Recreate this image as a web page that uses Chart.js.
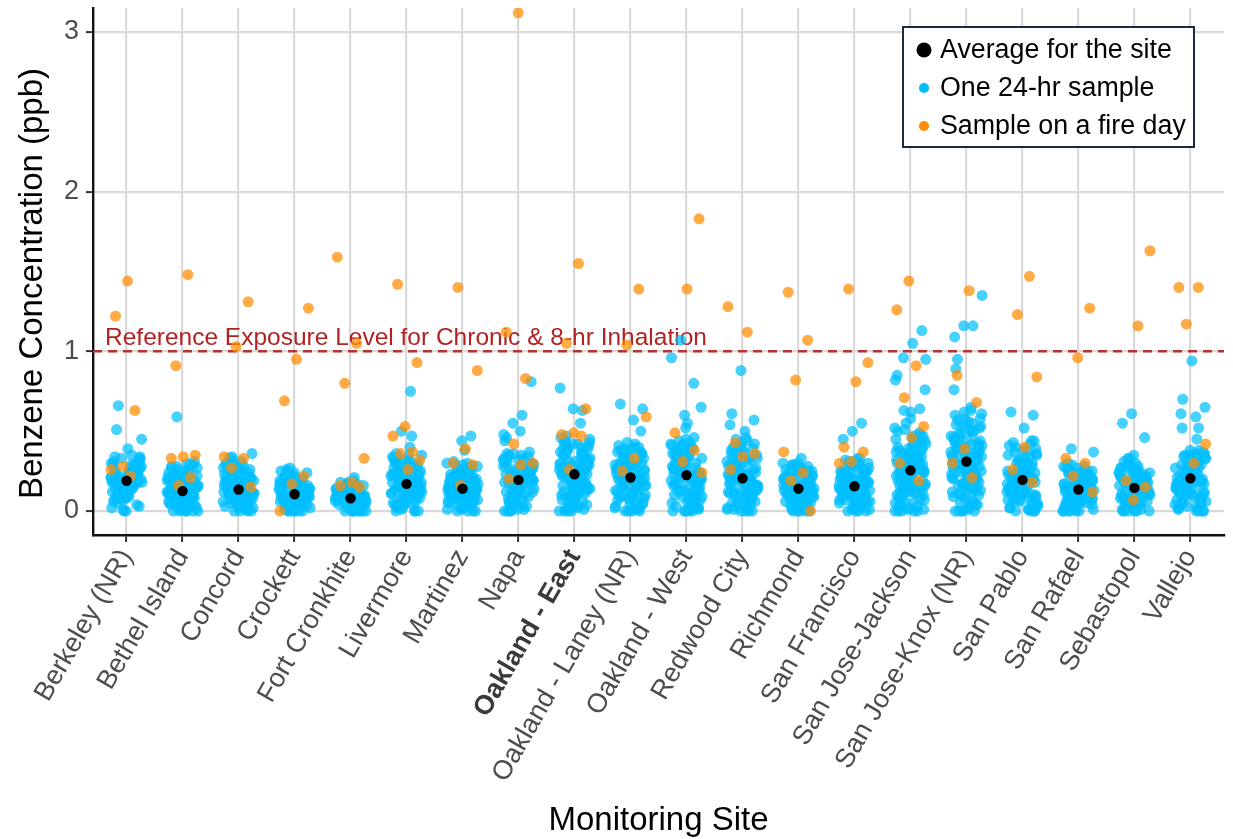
<!DOCTYPE html>
<html>
<head>
<meta charset="utf-8">
<script src="https://cdn.jsdelivr.net/npm/chart.js@4.4.1/dist/chart.umd.min.js"></script>
<style>
  html, body { margin: 0; padding: 0; background: #ffffff; }
  #wrap { width: 1233px; height: 839px; position: relative; }
</style>
</head>
<body>
<div id="wrap"><canvas id="chart"></canvas></div>
<script>
// Monitoring sites, in axis order
const sites = [
  'Berkeley (NR)', 'Bethel Island', 'Concord', 'Crockett', 'Fort Cronkhite',
  'Livermore', 'Martinez', 'Napa', 'Oakland - East', 'Oakland - Laney (NR)',
  'Oakland - West', 'Redwood City', 'Richmond', 'San Francisco', 'San Jose-Jackson',
  'San Jose-Knox (NR)', 'San Pablo', 'San Rafael', 'Sebastopol', 'Vallejo'
];
const highlightedSite = 'Oakland - East';

// Site averages (ppb)
const siteAverages = [
  0.19, 0.125, 0.135, 0.105, 0.08, 0.17, 0.14, 0.195, 0.23, 0.21,
  0.225, 0.205, 0.14, 0.155, 0.255, 0.31, 0.195, 0.135, 0.145, 0.205
];

// 24-hr samples on ordinary days (ppb), one list per site
const daySamples = [
  [0.21,0.17,0.66,0.24,0.12,0.31,0.19,0.08,0.27,0.15,0.51,0.22,0.0,0.18,0.29,0.13,0.26,0.1,0.34,0.2,0.16,0.45,0.23,0.05,0.28,0.14,0.19,0.25,0.11,0.32,0.39,0.17,0.21,0.07,0.3,0.24,0.13,0.18,0.0,0.26,0.15,0.33,0.2,0.09,0.22,0.27,0.16,0.12,0.35,0.19,0.03,0.23,0.14,0.29,0.18,
   0.18,0.26,0.11,0.3,0.2,0.06,0.24,0.15,0.33,0.21,0.09,0.27,0.17,0.02,0.23,0.13,0.31,0.19,0.07,0.25,0.16,0.28,0.12,0.22,0.04,0.2,0.29,0.14,0.18,0.34,0.1,0.24,0.17,0.01,0.21,0.27,0.15,0.23,0.08,0.19],
  [0.14,0.08,0.22,0.0,0.17,0.11,0.29,0.05,0.19,0.13,0.59,0.02,0.25,0.1,0.16,0.0,0.21,0.07,0.12,0.31,0.15,0.04,0.18,0.09,0.27,0.13,0.0,0.2,0.06,0.24,0.11,0.16,0.03,0.14,0.28,0.08,0.19,0.12,0.0,0.23,0.1,0.17,0.05,0.26,0.13,0.15,0.01,0.21,0.09,0.18,0.11,0.3,0.07,0.14,
   0.12,0.2,0.05,0.26,0.15,0.0,0.18,0.09,0.23,0.13,0.03,0.28,0.16,0.07,0.21,0.11,0.01,0.19,0.14,0.25,0.08,0.17,0.1,0.29,0.04,0.22,0.12,0.15,0.0,0.2,0.06,0.24,0.13,0.18,0.09,0.27,0.11,0.02,0.16,0.21],
  [0.13,0.21,0.06,0.28,0.15,0.0,0.19,0.1,0.33,0.12,0.24,0.03,0.17,0.08,0.36,0.14,0.22,0.0,0.11,0.27,0.16,0.05,0.2,0.09,0.3,0.13,0.18,0.02,0.25,0.1,0.15,0.07,0.23,0.12,0.34,0.0,0.19,0.14,0.04,0.26,0.11,0.17,0.08,0.21,0.13,0.29,0.06,0.16,0.1,0.24,0.15,0.01,0.2,0.12,
   0.14,0.22,0.07,0.27,0.16,0.01,0.2,0.11,0.31,0.13,0.04,0.25,0.18,0.09,0.23,0.12,0.0,0.19,0.15,0.29,0.06,0.17,0.1,0.26,0.03,0.21,0.14,0.32,0.08,0.18,0.12,0.24,0.05,0.16,0.28,0.11,0.2,0.02,0.15,0.22],
  [0.1,0.17,0.04,0.22,0.12,0.0,0.15,0.07,0.27,0.09,0.19,0.02,0.13,0.06,0.25,0.11,0.0,0.16,0.08,0.21,0.1,0.03,0.14,0.05,0.26,0.12,0.0,0.18,0.07,0.23,0.09,0.15,0.01,0.11,0.2,0.06,0.13,0.04,0.24,0.1,0.17,0.0,0.08,0.14,0.19,0.05,0.12,0.22,0.09,0.16,0.03,0.11,
   0.11,0.18,0.05,0.21,0.13,0.0,0.16,0.08,0.24,0.1,0.03,0.19,0.14,0.06,0.22,0.09,0.01,0.17,0.12,0.25,0.04,0.15,0.07,0.2,0.11,0.02,0.13,0.23,0.08,0.16,0.1,0.18,0.0,0.12,0.21,0.06,0.14,0.09,0.19,0.03],
  [0.08,0.13,0.03,0.17,0.06,0.0,0.11,0.05,0.15,0.09,0.01,0.12,0.04,0.19,0.07,0.0,0.1,0.14,0.02,0.08,0.16,0.05,0.11,0.0,0.13,0.06,0.21,0.09,0.03,0.12,0.07,0.15,0.0,0.1,0.04,0.18,0.08,0.02,0.14,0.06,0.11,0.0,0.09,0.13,0.05,0.16,0.07,0.01,0.12,0.1,
   0.07,0.12,0.02,0.15,0.09,0.0,0.13,0.04,0.17,0.08,0.01,0.11,0.06,0.14,0.1,0.03,0.16,0.07,0.0,0.12,0.05,0.18,0.09,0.02,0.13,0.06,0.11,0.04,0.15,0.08,0.0,0.1,0.14,0.03,0.12,0.07,0.17,0.05,0.09,0.01],
  [0.17,0.25,0.08,0.32,0.14,0.0,0.21,0.11,0.75,0.19,0.29,0.05,0.23,0.13,0.5,0.16,0.35,0.02,0.27,0.1,0.18,0.47,0.07,0.22,0.15,0.31,0.0,0.2,0.12,0.4,0.26,0.09,0.17,0.33,0.04,0.24,0.14,0.19,0.36,0.06,0.21,0.11,0.28,0.16,0.0,0.23,0.13,0.3,0.08,0.18,0.25,0.03,0.2,0.15,0.34,0.1,
   0.16,0.24,0.09,0.3,0.18,0.02,0.22,0.12,0.34,0.2,0.06,0.27,0.15,0.01,0.25,0.13,0.32,0.19,0.07,0.23,0.17,0.29,0.11,0.21,0.04,0.26,0.14,0.35,0.09,0.2,0.16,0.28,0.05,0.18,0.24,0.12,0.31,0.0,0.22,0.15],
  [0.14,0.22,0.05,0.27,0.12,0.0,0.18,0.09,0.47,0.16,0.3,0.03,0.2,0.11,0.44,0.15,0.25,0.0,0.13,0.38,0.08,0.19,0.23,0.06,0.1,0.29,0.17,0.02,0.21,0.12,0.26,0.07,0.15,0.31,0.0,0.18,0.1,0.24,0.04,0.14,0.2,0.09,0.28,0.13,0.01,0.16,0.22,0.06,0.11,0.19,0.08,0.25,0.14,
   0.13,0.21,0.06,0.26,0.15,0.0,0.19,0.1,0.29,0.14,0.03,0.24,0.17,0.08,0.22,0.12,0.01,0.18,0.27,0.11,0.2,0.05,0.16,0.25,0.09,0.13,0.3,0.07,0.19,0.02,0.23,0.15,0.11,0.28,0.04,0.17,0.21,0.1,0.14,0.26],
  [0.19,0.28,0.06,0.34,0.15,0.0,0.23,0.12,0.81,0.21,0.31,0.03,0.26,0.14,0.6,0.18,0.37,0.01,0.29,0.1,0.55,0.2,0.5,0.08,0.24,0.16,0.48,0.33,0.0,0.22,0.13,0.46,0.27,0.09,0.19,0.35,0.05,0.25,0.15,0.44,0.21,0.11,0.3,0.17,0.0,0.24,0.14,0.32,0.07,0.2,0.27,0.04,0.23,0.16,0.36,0.12,0.18,
   0.18,0.27,0.08,0.33,0.2,0.02,0.25,0.13,0.36,0.22,0.05,0.29,0.16,0.0,0.24,0.11,0.31,0.19,0.07,0.26,0.15,0.34,0.21,0.1,0.28,0.03,0.23,0.17,0.32,0.12,0.2,0.06,0.27,0.14,0.35,0.09,0.22,0.18,0.01,0.25],
  [0.23,0.34,0.08,0.41,0.18,0.0,0.28,0.14,0.77,0.25,0.38,0.04,0.31,0.16,0.63,0.21,0.45,0.02,0.35,0.11,0.64,0.27,0.55,0.09,0.3,0.19,0.43,0.36,0.0,0.26,0.13,0.47,0.32,0.07,0.22,0.4,0.05,0.29,0.17,0.44,0.24,0.12,0.37,0.2,0.0,0.27,0.15,0.39,0.06,0.23,0.33,0.03,0.28,0.18,0.42,0.1,0.21,0.31,0.14,0.25,0.35,0.01,0.19,0.29,0.12,0.38,0.16,0.24,
   0.24,0.36,0.09,0.43,0.2,0.01,0.31,0.15,0.46,0.27,0.05,0.39,0.22,0.12,0.34,0.18,0.0,0.29,0.41,0.13,0.25,0.07,0.37,0.2,0.32,0.1,0.44,0.26,0.03,0.3,0.17,0.4,0.23,0.08,0.35,0.19,0.28,0.14,0.42,0.21],
  [0.21,0.3,0.07,0.37,0.16,0.0,0.26,0.12,0.67,0.23,0.34,0.03,0.28,0.14,0.64,0.19,0.41,0.01,0.32,0.1,0.57,0.24,0.5,0.08,0.27,0.17,0.39,0.33,0.0,0.22,0.13,0.43,0.29,0.06,0.2,0.36,0.04,0.25,0.15,0.38,0.21,0.11,0.31,0.18,0.0,0.26,0.14,0.35,0.05,0.2,0.29,0.02,0.24,0.16,0.4,0.09,0.19,0.28,0.12,
   0.22,0.32,0.08,0.39,0.18,0.0,0.28,0.13,0.42,0.25,0.04,0.35,0.2,0.11,0.3,0.16,0.01,0.26,0.37,0.12,0.23,0.06,0.33,0.19,0.29,0.09,0.4,0.24,0.02,0.27,0.15,0.36,0.21,0.07,0.31,0.17,0.25,0.1,0.38,0.2],
  [0.22,0.33,0.07,0.4,0.17,0.0,0.27,0.13,1.07,0.24,0.37,0.03,0.3,0.15,0.96,0.2,0.44,0.01,0.34,0.1,0.8,0.26,0.65,0.08,0.29,0.18,0.6,0.36,0.0,0.25,0.12,0.55,0.31,0.06,0.21,0.42,0.04,0.28,0.16,0.52,0.23,0.11,0.38,0.19,0.0,0.26,0.14,0.41,0.05,0.22,0.32,0.02,0.27,0.17,0.46,0.09,0.2,0.35,0.13,0.24,0.3,0.0,0.18,0.39,0.15,
   0.23,0.35,0.08,0.42,0.19,0.01,0.3,0.14,0.45,0.26,0.04,0.38,0.21,0.11,0.33,0.17,0.0,0.28,0.4,0.12,0.24,0.06,0.36,0.2,0.31,0.09,0.43,0.25,0.02,0.29,0.16,0.39,0.22,0.07,0.34,0.18,0.27,0.13,0.41,0.2],
  [0.2,0.29,0.07,0.36,0.15,0.0,0.25,0.12,0.88,0.22,0.33,0.03,0.27,0.13,0.61,0.18,0.4,0.01,0.31,0.1,0.57,0.23,0.54,0.08,0.26,0.16,0.5,0.34,0.0,0.21,0.12,0.44,0.28,0.06,0.19,0.38,0.04,0.24,0.14,0.46,0.2,0.11,0.3,0.17,0.0,0.25,0.13,0.37,0.05,0.19,0.28,0.02,0.23,0.15,0.42,0.09,0.18,0.32,
   0.21,0.33,0.07,0.4,0.17,0.0,0.28,0.12,0.45,0.24,0.04,0.36,0.19,0.1,0.31,0.15,0.01,0.26,0.43,0.11,0.22,0.05,0.35,0.18,0.3,0.08,0.41,0.23,0.02,0.27,0.14,0.38,0.2,0.06,0.33,0.16,0.25,0.12,0.39,0.19],
  [0.14,0.21,0.05,0.27,0.11,0.0,0.18,0.09,0.33,0.16,0.25,0.02,0.2,0.1,0.29,0.13,0.0,0.23,0.07,0.15,0.3,0.12,0.04,0.19,0.08,0.26,0.14,0.0,0.22,0.11,0.17,0.06,0.28,0.13,0.01,0.2,0.1,0.24,0.15,0.03,0.18,0.09,0.27,0.12,0.0,0.16,0.21,0.07,0.14,0.25,0.11,0.19,0.05,
   0.13,0.2,0.06,0.26,0.15,0.0,0.18,0.09,0.29,0.12,0.03,0.23,0.16,0.07,0.21,0.1,0.01,0.17,0.27,0.11,0.19,0.04,0.14,0.24,0.08,0.12,0.3,0.06,0.18,0.02,0.22,0.15,0.1,0.28,0.05,0.16,0.2,0.09,0.13,0.25],
  [0.15,0.23,0.05,0.3,0.12,0.0,0.2,0.09,0.55,0.17,0.27,0.02,0.22,0.11,0.5,0.14,0.33,0.0,0.25,0.08,0.45,0.19,0.29,0.06,0.16,0.13,0.24,0.03,0.21,0.1,0.31,0.18,0.0,0.26,0.12,0.15,0.07,0.28,0.2,0.04,0.17,0.11,0.23,0.14,0.01,0.19,0.32,0.09,0.16,0.25,0.13,0.21,0.06,
   0.14,0.22,0.06,0.28,0.16,0.0,0.19,0.1,0.31,0.13,0.03,0.25,0.18,0.08,0.23,0.12,0.01,0.2,0.29,0.11,0.17,0.05,0.15,0.26,0.09,0.13,0.33,0.07,0.21,0.02,0.24,0.16,0.11,0.3,0.04,0.18,0.22,0.1,0.14,0.27],
  [0.25,0.36,0.08,0.44,0.19,0.0,0.31,0.14,1.13,0.27,0.4,0.03,0.33,0.16,1.05,0.22,0.48,0.01,0.37,0.11,0.96,0.29,0.62,0.09,0.34,0.2,0.95,0.42,0.0,0.28,0.13,0.85,0.35,0.06,0.24,0.46,0.04,0.31,0.17,0.82,0.26,0.12,0.39,0.21,0.0,0.3,0.15,0.76,0.05,0.25,0.43,0.02,0.32,0.18,0.63,0.1,0.23,0.38,0.14,0.27,0.52,0.0,0.2,0.34,0.12,0.5,0.16,0.29,0.07,0.41,0.22,0.64,0.26,0.45,0.11,0.36,0.19,0.58,0.24,0.3,0.55,0.17,0.47,0.28,
   0.26,0.37,0.1,0.45,0.21,0.01,0.33,0.16,0.49,0.28,0.05,0.41,0.23,0.13,0.36,0.19,0.0,0.31,0.44,0.14,0.27,0.07,0.39,0.22,0.34,0.11,0.47,0.29,0.03,0.32,0.18,0.42,0.24,0.08,0.38,0.2,0.3,0.15,0.51,0.25,0.35,0.12,0.43,0.23],
  [0.3,0.42,0.1,0.52,0.23,0.0,0.37,0.17,1.35,0.33,0.48,0.04,0.4,0.2,1.16,0.27,0.58,0.01,0.45,0.14,1.16,0.35,0.65,0.11,0.41,0.25,1.09,0.5,0.0,0.34,0.16,0.95,0.43,0.08,0.29,0.55,0.05,0.38,0.21,0.89,0.31,0.15,0.47,0.26,0.0,0.36,0.19,0.76,0.06,0.3,0.53,0.03,0.39,0.22,0.62,0.12,0.28,0.46,0.18,0.33,0.6,0.0,0.24,0.41,0.14,0.57,0.2,0.35,0.09,0.49,0.27,0.44,0.32,0.54,0.13,0.39,0.23,0.63,0.29,0.37,
   0.31,0.44,0.12,0.53,0.25,0.02,0.39,0.19,0.58,0.34,0.06,0.48,0.28,0.15,0.42,0.22,0.0,0.37,0.51,0.16,0.32,0.09,0.46,0.26,0.4,0.13,0.56,0.35,0.04,0.38,0.21,0.5,0.29,0.1,0.45,0.24,0.36,0.17,0.61,0.3,0.43,0.14,0.52,0.27],
  [0.19,0.28,0.06,0.35,0.15,0.0,0.24,0.11,0.62,0.21,0.32,0.03,0.26,0.13,0.6,0.17,0.41,0.01,0.3,0.09,0.52,0.22,0.44,0.07,0.25,0.16,0.37,0.0,0.2,0.12,0.34,0.27,0.05,0.18,0.43,0.04,0.23,0.14,0.29,0.19,0.1,0.38,0.16,0.0,0.24,0.12,0.31,0.08,0.2,0.27,0.02,0.22,0.15,0.36,0.11,0.18,
   0.2,0.3,0.07,0.37,0.16,0.0,0.26,0.12,0.42,0.23,0.04,0.33,0.18,0.1,0.28,0.14,0.01,0.24,0.39,0.11,0.21,0.05,0.32,0.17,0.27,0.08,0.44,0.22,0.02,0.25,0.13,0.35,0.19,0.06,0.3,0.15,0.23,0.09,0.4,0.18],
  [0.13,0.2,0.05,0.26,0.11,0.0,0.17,0.08,0.39,0.15,0.24,0.02,0.19,0.1,0.37,0.12,0.0,0.22,0.07,0.14,0.28,0.11,0.04,0.18,0.09,0.25,0.13,0.0,0.21,0.1,0.16,0.06,0.27,0.12,0.01,0.19,0.09,0.23,0.14,0.03,0.17,0.08,0.29,0.11,0.0,0.15,0.2,0.07,0.13,0.24,0.1,0.18,0.05,
   0.12,0.19,0.05,0.25,0.14,0.0,0.17,0.08,0.28,0.11,0.02,0.22,0.15,0.06,0.2,0.09,0.01,0.16,0.26,0.1,0.18,0.03,0.13,0.23,0.07,0.11,0.3,0.05,0.17,0.0,0.21,0.14,0.09,0.27,0.04,0.15,0.19,0.08,0.12,0.24],
  [0.14,0.21,0.05,0.28,0.11,0.0,0.18,0.09,0.61,0.16,0.25,0.02,0.2,0.1,0.55,0.13,0.33,0.0,0.23,0.07,0.46,0.15,0.27,0.04,0.19,0.12,0.3,0.0,0.17,0.09,0.24,0.14,0.06,0.21,0.35,0.11,0.01,0.18,0.13,0.26,0.08,0.16,0.03,0.22,0.12,0.29,0.15,0.0,0.2,0.1,0.17,0.24,0.07,
   0.13,0.2,0.05,0.27,0.15,0.0,0.18,0.09,0.31,0.12,0.02,0.24,0.16,0.07,0.22,0.1,0.01,0.19,0.29,0.11,0.17,0.04,0.14,0.25,0.08,0.13,0.33,0.06,0.2,0.0,0.23,0.15,0.1,0.28,0.03,0.17,0.21,0.09,0.12,0.26],
  [0.2,0.29,0.07,0.35,0.16,0.0,0.25,0.12,0.94,0.22,0.32,0.03,0.27,0.14,0.7,0.18,0.38,0.01,0.3,0.1,0.65,0.23,0.61,0.08,0.26,0.17,0.59,0.34,0.0,0.21,0.13,0.52,0.28,0.06,0.19,0.52,0.04,0.24,0.15,0.45,0.2,0.11,0.31,0.18,0.0,0.25,0.14,0.36,0.05,0.2,0.28,0.02,0.23,0.16,0.33,0.09,0.19,
   0.19,0.28,0.07,0.34,0.16,0.0,0.24,0.11,0.38,0.21,0.04,0.31,0.17,0.09,0.26,0.13,0.01,0.23,0.36,0.1,0.2,0.05,0.3,0.15,0.25,0.08,0.37,0.22,0.02,0.27,0.14,0.33,0.18,0.06,0.29,0.12,0.21,0.03,0.35,0.17]
];

// 24-hr samples taken on wildfire-smoke days (ppb), one list per site
const fireDaySamples = [
  [1.44,1.22,0.63,0.28,0.26,0.22],
  [1.48,0.91,0.35,0.34,0.33,0.21,0.16],
  [1.31,1.03,0.34,0.33,0.27,0.15],
  [1.27,0.95,0.69,0.22,0.17,0.0],
  [1.59,1.05,0.8,0.33,0.18,0.16,0.15],
  [1.42,0.93,0.53,0.47,0.37,0.36,0.32,0.26],
  [1.4,0.88,0.39,0.3,0.29,0.16],
  [3.12,1.12,0.83,0.42,0.3,0.29,0.2],
  [1.55,1.05,0.64,0.49,0.48,0.47,0.26],
  [1.39,1.04,0.59,0.33,0.25],
  [1.83,1.39,0.49,0.38,0.31,0.24],
  [1.28,1.12,0.43,0.36,0.34,0.26],
  [1.37,1.07,0.82,0.37,0.24,0.19,0.0],
  [1.39,0.93,0.81,0.4,0.37,0.31,0.3],
  [1.44,1.26,0.91,0.71,0.53,0.46,0.3,0.19],
  [1.38,0.85,0.68,0.39,0.3,0.21],
  [1.47,1.23,0.84,0.4,0.26,0.18],
  [1.27,0.96,0.33,0.3,0.22,0.12],
  [1.63,1.16,0.19,0.15,0.07],
  [1.4,1.4,1.17,0.42,0.3]
];

const yTickValues = [0, 1, 2, 3];
const referenceLevel = 1;
const referenceLabel = 'Reference Exposure Level for Chronic & 8-hr Inhalation';
const yTitle = 'Benzene Concentration (ppb)';

const legendEntries = [
  { label: 'Average for the site', color: '#000000', radius: 7.5 },
  { label: 'One 24-hr sample', color: '#00bfff', radius: 5 },
  { label: 'Sample on a fire day', color: '#ff8c00', radius: 5 }
];

const FONT = '"Liberation Sans", Arial, Helvetica, sans-serif';
const BLUE = 'rgba(0, 191, 255, 0.72)';
const ORANGE = 'rgba(255, 140, 0, 0.72)';
const GRID = '#d9d9d9';

// Horizontal spread of samples inside a site's column (deterministic, low-discrepancy)
function spread(k, seed) {
  const f = (k * 0.6180339887 + seed) % 1;
  return (f - 0.5) * 0.56;
}
function jittered(groups, seed) {
  const pts = [];
  groups.forEach((vals, s) => {
    vals.forEach((v, k) => pts.push({ x: s + spread(k, (s * 0.137 + seed) % 1), y: v }));
  });
  return pts;
}

// Dashed reference exposure level with its caption, drawn beneath the points
const referenceLine = {
  id: 'referenceLine',
  beforeDatasetsDraw(chart) {
    const { ctx, chartArea, scales } = chart;
    const y = scales.y.getPixelForValue(referenceLevel);
    ctx.save();
    ctx.strokeStyle = '#b83232';
    ctx.lineWidth = 2.5;
    ctx.setLineDash([9, 6]);
    ctx.beginPath();
    ctx.moveTo(chartArea.left, y);
    ctx.lineTo(chartArea.right, y);
    ctx.stroke();
    ctx.setLineDash([]);
    ctx.fillStyle = '#b22222';
    ctx.font = '24.5px ' + FONT;
    ctx.textAlign = 'left';
    ctx.textBaseline = 'alphabetic';
    ctx.fillText(referenceLabel, chartArea.left + 12, y - 6);
    ctx.restore();
  }
};

// Vertical axis title, centred a little below the panel middle
const verticalTitle = {
  id: 'verticalTitle',
  afterDraw(chart) {
    const { ctx, chartArea } = chart;
    ctx.save();
    ctx.translate(33, (chartArea.top + chartArea.bottom) / 2 + 12);
    ctx.rotate(-Math.PI / 2);
    ctx.fillStyle = '#000000';
    ctx.font = '33px ' + FONT;
    ctx.textAlign = 'center';
    ctx.textBaseline = 'middle';
    ctx.fillText(yTitle, 0, 0);
    ctx.restore();
  }
};

// Boxed legend in the upper right of the plotting area
const boxedLegend = {
  id: 'boxedLegend',
  afterDraw(chart) {
    const { ctx, chartArea } = chart;
    const w = 291, h = 120;
    const left = chartArea.right - 321;
    const top = chartArea.top + 19;
    ctx.save();
    ctx.fillStyle = '#ffffff';
    ctx.fillRect(left, top, w, h);
    ctx.strokeStyle = '#1c2b3a';
    ctx.lineWidth = 2;
    ctx.strokeRect(left, top, w, h);
    ctx.font = '26.8px ' + FONT;
    ctx.textAlign = 'left';
    ctx.textBaseline = 'middle';
    legendEntries.forEach((e, i) => {
      const cy = top + 23 + i * 38;
      ctx.fillStyle = e.color;
      ctx.beginPath();
      ctx.arc(left + 21, cy, e.radius, 0, Math.PI * 2);
      ctx.fill();
      ctx.fillStyle = '#000000';
      ctx.fillText(e.label, left + 37, cy + 1);
    });
    ctx.restore();
  }
};

new Chart(document.getElementById('chart'), {
  type: 'scatter',
  data: {
    datasets: [
      {
        label: 'Average for the site',
        data: siteAverages.map((v, i) => ({ x: i, y: v })),
        backgroundColor: '#000000',
        pointRadius: 5.2,
        borderWidth: 0,
        order: 0
      },
      {
        label: 'Sample on a fire day',
        data: jittered(fireDaySamples, 0.53),
        backgroundColor: ORANGE,
        pointRadius: 5.5,
        borderWidth: 0,
        order: 1
      },
      {
        label: 'One 24-hr sample',
        data: jittered(daySamples, 0.0),
        backgroundColor: BLUE,
        pointRadius: 5.5,
        borderWidth: 0,
        order: 2
      }
    ]
  },
  options: {
    responsive: true,
    maintainAspectRatio: false,
    animation: false,
    devicePixelRatio: 1,
    layout: { padding: { top: 8, right: 9, left: 8, bottom: 0 } },
    plugins: { legend: { display: false }, tooltip: { enabled: false } },
    elements: { point: { hoverRadius: 5 } },
    scales: {
      x: {
        type: 'linear',
        min: -0.6,
        max: 19.6,
        afterBuildTicks: (scale) => { scale.ticks = sites.map((_, i) => ({ value: i })); },
        afterFit: (scale) => {
          scale.height = 304;
          scale.paddingLeft = 0;
          scale.paddingRight = 0;
        },
        ticks: {
          autoSkip: false,
          minRotation: 60,
          maxRotation: 60,
          padding: 2,
          color: (ctx) => (ctx.tick && sites[ctx.tick.value] === highlightedSite ? '#3a3a3a' : '#4d4d4d'),
          font: (ctx) => ({
            family: FONT,
            size: 27,
            weight: ctx.tick && sites[ctx.tick.value] === highlightedSite ? 'bold' : 'normal'
          }),
          callback: (v) => sites[v]
        },
        grid: { color: GRID, lineWidth: 2.2, tickColor: '#333333', tickLength: 7, tickWidth: 2 },
        border: { display: true, color: '#111111', width: 2.4 },
        title: {
          display: true,
          text: 'Monitoring Site',
          color: '#000000',
          font: { family: FONT, size: 33, lineHeight: 1.1 },
          padding: { top: 0, bottom: 0 }
        }
      },
      y: {
        min: -0.15,
        max: 3.15,
        afterBuildTicks: (scale) => { scale.ticks = yTickValues.map((v) => ({ value: v })); },
        afterFit: (scale) => {
          scale.width = 85;
          scale.paddingTop = 0;
          scale.paddingBottom = 0;
        },
        ticks: { padding: 7, color: '#4d4d4d', font: { family: FONT, size: 27 } },
        grid: { color: GRID, lineWidth: 2.2, tickColor: '#333333', tickLength: 7, tickWidth: 2 },
        border: { display: true, color: '#111111', width: 2.4 },
        title: { display: false }
      }
    }
  },
  plugins: [referenceLine, verticalTitle, boxedLegend]
});
</script>
</body>
</html>
